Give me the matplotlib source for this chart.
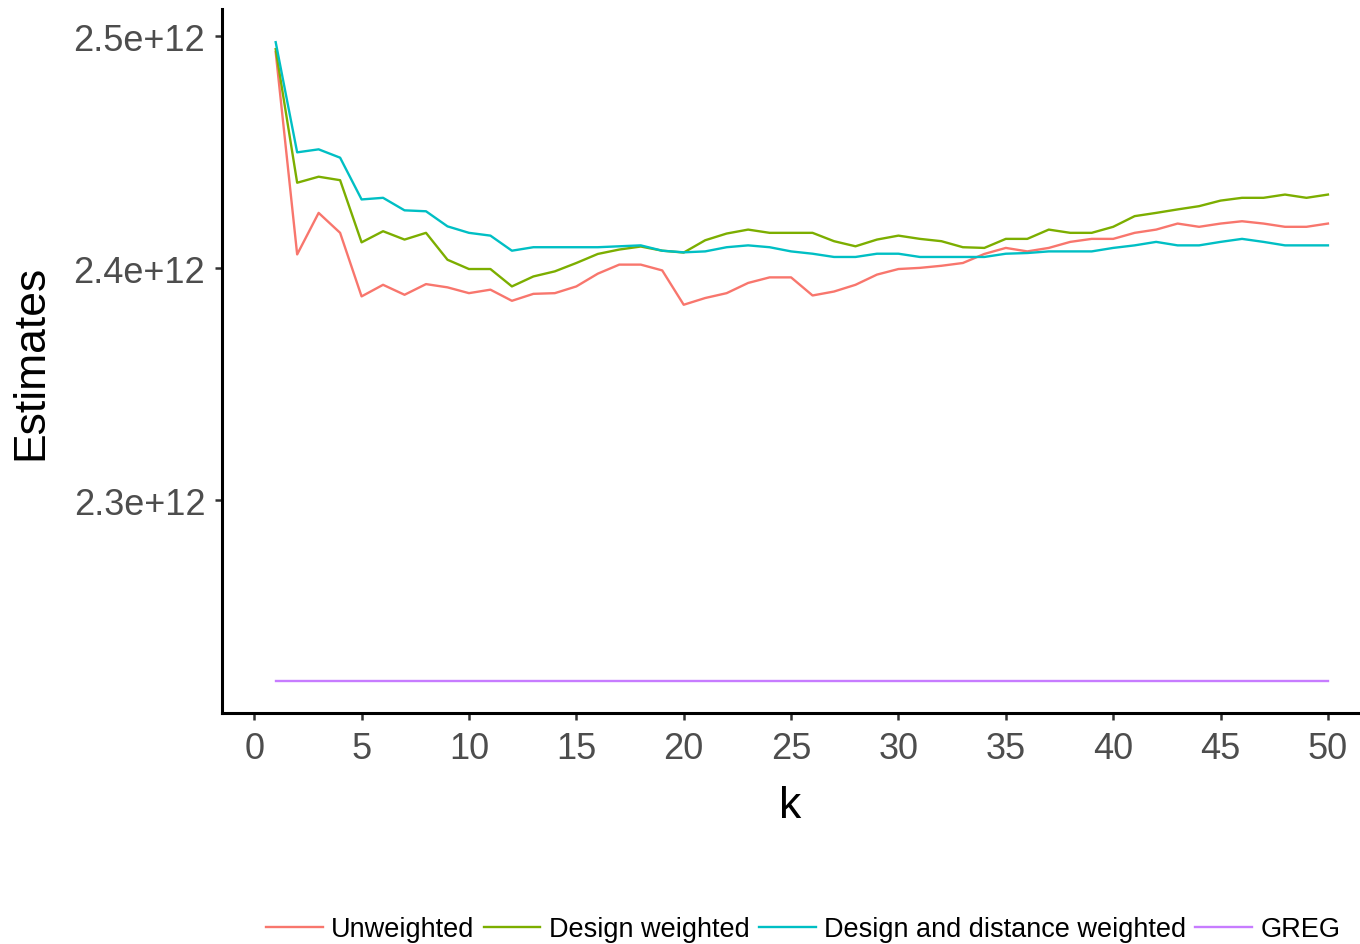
import matplotlib
matplotlib.use('Agg')
import matplotlib.pyplot as plt
import numpy as np
from matplotlib.ticker import FuncFormatter

# estimates in units of 1e12, k = 1..50
k = list(range(1, 51))

unweighted = [
    2.4932, 2.4060, 2.4239, 2.4153, 2.3879, 2.3929, 2.3886, 2.3932, 2.3918, 2.3893,
    2.3908, 2.3860, 2.3890, 2.3893, 2.3922, 2.3977, 2.4016, 2.4016, 2.3991, 2.3843,
    2.3872, 2.3893, 2.3937, 2.3961, 2.3961, 2.3883, 2.3900, 2.3929, 2.3973, 2.3997,
    2.4002, 2.4011, 2.4023, 2.4062, 2.4088, 2.4073, 2.4088, 2.4114, 2.4127, 2.4127,
    2.4153, 2.4167, 2.4193, 2.4179, 2.4193, 2.4203, 2.4193, 2.4179, 2.4179, 2.4193,
]
design_weighted = [
    2.4945, 2.4369, 2.4395, 2.4380, 2.4112, 2.4160, 2.4124, 2.4153, 2.4037, 2.3997,
    2.3997, 2.3922, 2.3965, 2.3987, 2.4023, 2.4062, 2.4081, 2.4094, 2.4076, 2.4068,
    2.4121, 2.4150, 2.4167, 2.4153, 2.4153, 2.4153, 2.4117, 2.4095, 2.4124, 2.4141,
    2.4127, 2.4117, 2.4091, 2.4088, 2.4127, 2.4127, 2.4167, 2.4153, 2.4153, 2.4179,
    2.4225, 2.4239, 2.4254, 2.4268, 2.4292, 2.4304, 2.4304, 2.4318, 2.4304, 2.4318,
]
design_distance = [
    2.4975, 2.4500, 2.4513, 2.4477, 2.4297, 2.4304, 2.4250, 2.4246, 2.4181, 2.4153,
    2.4141, 2.4076, 2.4091, 2.4091, 2.4091, 2.4091, 2.4095, 2.4099, 2.4076, 2.4069,
    2.4073, 2.4091, 2.4099, 2.4091, 2.4073, 2.4063, 2.4049, 2.4049, 2.4063, 2.4063,
    2.4049, 2.4049, 2.4049, 2.4049, 2.4063, 2.4066, 2.4073, 2.4073, 2.4073, 2.4088,
    2.4099, 2.4114, 2.4099, 2.4099, 2.4114, 2.4127, 2.4114, 2.4099, 2.4099, 2.4099,
]
greg = [2.2222] * 50

series_names = ['Unweighted', 'Design weighted', 'Design and distance weighted', 'GREG']
series_colors = ['#F8766D', '#7CAE00', '#00BFC4', '#C77CFF']
y_ticks = [2.3, 2.4, 2.5]
x_ticks = [0, 5, 10, 15, 20, 25, 30, 35, 40, 45, 50]

plt.rcParams['font.family'] = ['Liberation Sans', 'DejaVu Sans']

fig = plt.figure(figsize=(13.6, 9.45), dpi=100)
ax = fig.add_axes([222 / 1360, 1 - 714 / 945, 1136 / 1360, 704 / 945])

all_series = [unweighted, design_weighted, design_distance, greg]
for vals, name, col in zip(all_series, series_names, series_colors):
    ax.plot(k, np.array(vals) * 1e12, color=col, linewidth=1.7, label=name)

ax.set_xlim(-1.5, 51.4)
ax.set_ylim(2.2083e12, 2.5118e12)
ax.set_xticks(x_ticks)
ax.set_yticks(np.array(y_ticks) * 1e12)
ax.yaxis.set_major_formatter(FuncFormatter(lambda v, p: f"{v / 1e12:g}e+12"))

for side in ['top', 'right']:
    ax.spines[side].set_visible(False)
for side in ['left', 'bottom']:
    ax.spines[side].set_linewidth(2.2)
    ax.spines[side].set_color('black')

ax.tick_params(axis='both', length=5, width=1.8, color='#333333',
               labelcolor='#4D4D4D', labelsize=26)
ax.tick_params(axis='x', pad=8)
ax.tick_params(axis='y', pad=7)

ax.set_xlabel('k', fontsize=32, color='black', labelpad=14)
ax.set_ylabel('Estimates', fontsize=32, color='black', labelpad=16)

fig.legend(loc='center', bbox_to_anchor=(803 / 1360, 1 - 930 / 945), ncol=4,
           frameon=False, fontsize=19.5, handlelength=2.1, handletextpad=0.3,
           columnspacing=0.35, borderaxespad=0)

fig.savefig('out.png', dpi=100)
